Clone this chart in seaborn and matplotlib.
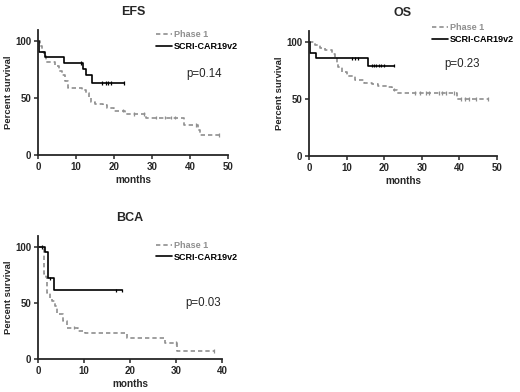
import matplotlib
matplotlib.use('Agg')
import matplotlib.pyplot as plt
import pandas as pd
import numpy as np
import seaborn as sns

# step curves: (months, percent survival)
efs_p1_t = [0, 0.5, 1.0, 1.6, 2.2, 4.6, 5.6, 6.4, 7.2, 8.0, 11.6, 12.6, 13.4, 14.0, 15.1, 17.2, 18.2, 20.0, 22.9, 28.4, 38.3, 42.0, 42.7, 47.6]
efs_p1_s = [100, 96, 91, 87, 82, 78, 74, 70, 65, 59, 57, 55, 51, 47, 45, 44, 41, 39, 36, 33, 26.5, 22, 17.5, 17.5]
efs_p1_cens_t = [22.4, 25.2, 27.8, 31.0, 33.5, 35.0, 36.0, 41.5, 47.6]
efs_p1_cens_s = [39, 36, 36, 33, 33, 33, 33, 26.5, 17.5]
efs_car_t = [0, 0.3, 1.8, 6.8, 11.9, 12.6, 14.3, 22.7]
efs_car_s = [100, 91, 86, 81, 76, 70, 63.5, 63.5]
efs_car_cens_t = [11.4, 16.9, 17.8, 18.4, 19.1, 22.7]
efs_car_cens_s = [81, 63.5, 63.5, 63.5, 63.5, 63.5]

os_p1_t = [0, 1.5, 3.0, 4.3, 6.0, 6.9, 7.4, 7.8, 8.7, 10.0, 12.2, 14.5, 16.7, 18.4, 20.7, 22.2, 23.3, 39.4, 47.6]
os_p1_s = [100, 97.5, 95, 93, 90, 86, 82, 78, 74, 70, 67, 64.5, 63.5, 62, 60.5, 58.5, 55.6, 50, 50]
os_p1_cens_t = [22.6, 28.2, 29.5, 31.0, 32.0, 34.5, 35.5, 36.5, 38.5, 40.5, 41.5, 42.5, 44.5, 47.6]
os_p1_cens_s = [58.5, 55.6, 55.6, 55.6, 55.6, 55.6, 55.6, 55.6, 55.6, 50, 50, 50, 50, 50]
os_car_t = [0, 0.3, 1.9, 15.8, 22.5]
os_car_s = [100, 91, 86, 79.4, 79.4]
os_car_cens_t = [11.5, 12.3, 13.0, 16.7, 17.3, 17.9, 18.5, 19.2, 20.0, 22.5]
os_car_cens_s = [86, 86, 86, 79.4, 79.4, 79.4, 79.4, 79.4, 79.4, 79.4]

bca_p1_t = [0, 1.0, 1.2, 1.3, 1.4, 1.7, 2.0, 2.5, 3.0, 3.7, 4.1, 5.5, 6.2, 8.8, 10.2, 19.3, 27.6, 30.3, 38.2]
bca_p1_s = [100, 98, 94, 88, 76, 73, 59, 55, 52, 47, 40, 34, 28, 25, 23, 18.5, 14.4, 7, 7]
bca_p1_cens_t = [7.9, 29.9, 38.2]
bca_p1_cens_s = [28, 14.4, 7]
bca_car_t = [0, 1.6, 2.2, 3.5, 18.3]
bca_car_s = [100, 96, 72, 61.3, 61.3]
bca_car_cens_t = [0.8, 2.7, 17.0, 18.3]
bca_car_cens_s = [100, 72, 61.3, 61.3]

groups = ['Phase 1', 'SCRI-CAR19v2']
pal = {'Phase 1': '#8f8f8f', 'SCRI-CAR19v2': 'black'}
dash = {'Phase 1': (2.6, 1.8), 'SCRI-CAR19v2': ''}


def make_df(t1, s1, t2, s2):
    return pd.concat([
        pd.DataFrame({'months': t1, 'surv': s1, 'group': groups[0]}),
        pd.DataFrame({'months': t2, 'surv': s2, 'group': groups[1]}),
    ], ignore_index=True)


sns.set_style('ticks')
plt.rcParams['font.family'] = ['Liberation Sans', 'DejaVu Sans']
plt.rcParams['axes.linewidth'] = 1.3

fig = plt.figure(figsize=(5.2, 3.92), dpi=100)
W, H = 520, 392


def px_axes(l, t, r, b):
    return fig.add_axes([l / W, 1 - b / H, (r - l) / W, (b - t) / H])


panels = [
    dict(title='EFS', box=(38, 30, 228, 155), xmax=50, p='p=0.14', ppos=(0.78, 0.65), leg=(0.62, 1.0),
         curves=make_df(efs_p1_t, efs_p1_s, efs_car_t, efs_car_s),
         cens=make_df(efs_p1_cens_t, efs_p1_cens_s, efs_car_cens_t, efs_car_cens_s)),
    dict(title='OS', box=(309, 31, 497, 156), xmax=50, p='p=0.23', ppos=(0.72, 0.74), leg=(0.655, 1.06),
         curves=make_df(os_p1_t, os_p1_s, os_car_t, os_car_s),
         cens=make_df(os_p1_cens_t, os_p1_cens_s, os_car_cens_t, os_car_cens_s)),
    dict(title='BCA', box=(38, 236, 222, 359), xmax=40, p='p=0.03', ppos=(0.80, 0.455), leg=(0.64, 0.96),
         curves=make_df(bca_p1_t, bca_p1_s, bca_car_t, bca_car_s),
         cens=make_df(bca_p1_cens_t, bca_p1_cens_s, bca_car_cens_t, bca_car_cens_s)),
]

for pn in panels:
    ax = px_axes(*pn['box'])
    sns.lineplot(data=pn['curves'], x='months', y='surv', hue='group', style='group',
                 palette=pal, dashes=dash, drawstyle='steps-post', estimator=None,
                 sort=False, linewidth=1.2, ax=ax)
    sns.scatterplot(data=pn['cens'], x='months', y='surv', hue='group', palette=pal,
                    marker='|', s=6, linewidth=0.9, legend=False, ax=ax)
    ax.set_xlim(0, pn['xmax'])
    ax.set_ylim(0, 110)
    ax.set_xticks(np.arange(0, pn['xmax'] + 1, 10))
    ax.set_yticks([0, 50, 100])
    ax.tick_params(labelsize=7, length=3, width=1.1, pad=2)
    for lab in ax.get_xticklabels() + ax.get_yticklabels():
        lab.set_fontweight('bold')
    sns.despine(ax=ax)
    ax.set_xlabel('months', fontsize=7.2, fontweight='bold', labelpad=2)
    ax.set_ylabel('Percent survival', fontsize=6.8, fontweight='bold', labelpad=1.5)
    ax.set_title(pn['title'], fontsize=9, fontweight='bold', pad=11)
    ax.text(pn['ppos'][0], pn['ppos'][1], pn['p'], transform=ax.transAxes,
            fontsize=8.3, ha='left', va='center')
    h, l = ax.get_legend_handles_labels()
    leg = ax.legend(h, l, loc='upper left', bbox_to_anchor=pn['leg'], frameon=False,
                    fontsize=6.5, handlelength=1.8, handletextpad=0.2, labelspacing=0.3,
                    borderpad=0, borderaxespad=0)
    for txt in leg.get_texts():
        txt.set_fontweight('bold')
        txt.set_color(pal[txt.get_text()])
    for c in ax.collections:
        c.set_clip_on(False)
    for ln in ax.lines:
        ln.set_clip_on(False)

fig.savefig('out.png', dpi=100)
